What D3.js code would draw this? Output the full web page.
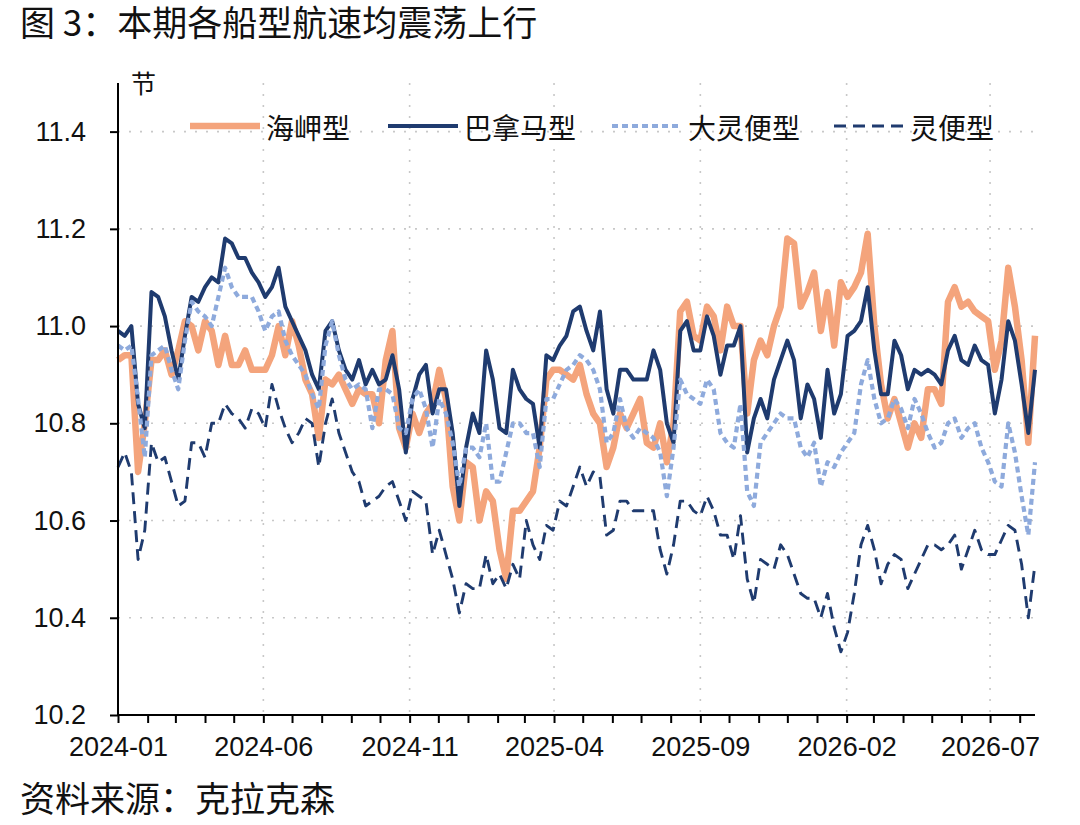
<!DOCTYPE html>
<html>
<head>
<meta charset="utf-8">
<script src="https://cdn.jsdelivr.net/npm/d3@7/dist/d3.min.js"></script>
<style>
	body { margin: 0; background: #fff; }
	svg text { fill: #111; }
	.num { font-family: "Liberation Sans", Arial, sans-serif; }
	.cjk { font-family: "Noto Sans CJK SC", sans-serif; }
</style>
</head>
<body>
<svg id="chart" width="1080" height="825"></svg>
<script>
// weekly readings, first week starts 2024-01-01
var firstWeek = '2024-01-01';

var capesize = [
	10.93,10.94,10.94,10.70,10.80,10.93,10.93,10.95,10.90,10.95,
	11.01,11.00,10.95,11.01,10.99,10.92,10.98,10.92,10.92,10.95,
	10.91,10.91,10.91,10.94,11.00,10.94,11.01,10.96,10.89,10.86,
	10.77,10.89,10.88,10.90,10.87,10.84,10.87,10.86,10.86,10.80,
	10.93,10.99,10.79,10.75,10.82,10.78,10.82,10.84,10.91,10.85,
	10.67,10.60,10.72,10.71,10.60,10.66,10.64,10.54,10.48,10.62,
	10.62,10.64,10.66,10.75,10.89,10.91,10.91,10.90,10.89,10.92,
	10.86,10.82,10.80,10.71,10.75,10.82,10.79,10.82,10.85,10.76,
	10.75,10.80,10.72,10.80,11.03,11.05,10.98,10.97,11.04,11.02,
	10.95,11.04,11.00,11.00,10.82,10.93,10.97,10.94,11.00,11.04,
	11.18,11.17,11.04,11.07,11.11,10.99,11.07,10.96,11.09,11.06,
	11.08,11.11,11.19,11.00,10.88,10.81,10.85,10.80,10.75,10.80,
	10.77,10.87,10.87,10.84,11.05,11.08,11.04,11.05,11.03,11.02,
	11.01,10.91,10.97,11.12,11.04,10.93,10.76,10.98
];
var panamax = [
	10.99,10.98,11.00,10.84,10.79,11.07,11.06,11.02,10.95,10.89,
	10.98,11.06,11.05,11.08,11.10,11.09,11.18,11.17,11.14,11.14,
	11.11,11.09,11.06,11.08,11.12,11.04,11.01,10.98,10.95,10.90,
	10.87,10.99,11.01,10.95,10.91,10.89,10.93,10.88,10.91,10.88,
	10.89,10.94,10.87,10.74,10.85,10.90,10.92,10.82,10.87,10.87,
	10.78,10.63,10.75,10.82,10.78,10.95,10.89,10.79,10.78,10.91,
	10.87,10.85,10.84,10.75,10.94,10.93,10.96,10.98,11.03,11.04,
	10.99,10.95,11.03,10.87,10.82,10.91,10.91,10.89,10.89,10.89,
	10.95,10.91,10.80,10.76,10.99,11.01,10.95,10.95,11.02,10.98,
	10.90,10.96,10.96,11.00,10.74,10.81,10.85,10.81,10.89,10.93,
	10.97,10.93,10.81,10.88,10.85,10.77,10.91,10.82,10.86,10.98,
	10.99,11.01,11.08,10.95,10.86,10.86,10.97,10.94,10.87,10.91,
	10.90,10.91,10.90,10.88,10.95,10.98,10.93,10.92,10.96,10.93,
	10.92,10.82,10.89,11.01,10.97,10.88,10.78,10.91
];
var supramax = [
	10.96,10.95,10.96,10.85,10.73,10.94,10.95,10.96,10.91,10.87,
	10.97,11.05,11.03,11.02,11.00,11.06,11.12,11.08,11.06,11.06,
	11.06,11.03,10.99,11.02,11.03,10.97,10.94,10.92,10.90,10.86,
	10.83,10.96,11.01,10.94,10.89,10.87,10.88,10.87,10.79,10.87,
	10.87,10.86,10.79,10.78,10.85,10.87,10.83,10.75,10.85,10.82,
	10.76,10.67,10.75,10.75,10.73,10.80,10.68,10.68,10.74,10.80,
	10.80,10.78,10.78,10.71,10.85,10.85,10.88,10.91,10.92,10.94,
	10.93,10.91,10.87,10.76,10.78,10.85,10.79,10.77,10.79,10.78,
	10.77,10.74,10.65,10.75,10.89,10.86,10.85,10.84,10.89,10.87,
	10.78,10.76,10.75,10.84,10.66,10.63,10.76,10.78,10.80,10.82,
	10.81,10.81,10.75,10.73,10.76,10.67,10.72,10.71,10.74,10.76,
	10.78,10.88,10.93,10.85,10.80,10.81,10.85,10.83,10.79,10.85,
	10.82,10.78,10.75,10.76,10.80,10.81,10.77,10.79,10.80,10.75,
	10.72,10.68,10.67,10.80,10.74,10.65,10.57,10.72
];
var handysize = [
	10.71,10.74,10.70,10.52,10.58,10.76,10.72,10.73,10.68,10.63,
	10.64,10.76,10.76,10.73,10.80,10.80,10.84,10.82,10.81,10.79,
	10.83,10.82,10.79,10.88,10.83,10.79,10.76,10.78,10.81,10.80,
	10.71,10.80,10.85,10.78,10.74,10.70,10.68,10.63,10.64,10.65,
	10.67,10.68,10.64,10.60,10.66,10.65,10.64,10.53,10.58,10.53,
	10.48,10.41,10.47,10.46,10.46,10.53,10.47,10.49,10.46,10.51,
	10.48,10.60,10.55,10.52,10.59,10.58,10.64,10.63,10.67,10.71,
	10.67,10.70,10.69,10.57,10.58,10.64,10.64,10.62,10.62,10.62,
	10.62,10.54,10.49,10.55,10.64,10.64,10.62,10.61,10.65,10.62,
	10.57,10.57,10.52,10.61,10.48,10.43,10.52,10.51,10.50,10.55,
	10.53,10.49,10.45,10.44,10.44,10.40,10.45,10.38,10.33,10.37,
	10.45,10.55,10.59,10.54,10.47,10.51,10.53,10.52,10.46,10.49,
	10.52,10.55,10.55,10.54,10.55,10.57,10.50,10.54,10.58,10.54,
	10.53,10.53,10.56,10.59,10.58,10.51,10.40,10.51
];

var seriesNames = ['海岬型', '巴拿马型', '大灵便型', '灵便型'];
var xTickLabels = ['2024-01', '2024-06', '2024-11', '2025-04', '2025-09', '2026-02', '2026-07'];
var yTicks = [10.2, 10.4, 10.6, 10.8, 11.0, 11.2, 11.4];

var parse = d3.timeParse('%Y-%m-%d');
var parseMonth = d3.timeParse('%Y-%m');
var start = parse(firstWeek);
var weeks = capesize.map(function(d, i){ return d3.timeDay.offset(start, i * 7) });

var styles = [
	{ data: capesize, color: '#F4A47C', width: 6.5, dash: null },
	{ data: panamax, color: '#1F3B6F', width: 4, dash: null },
	{ data: supramax, color: '#8EAADC', width: 4.2, dash: '6,4' },
	{ data: handysize, color: '#1F3B6F', width: 2.9, dash: '12,7' }
];

var svg = d3.select('#chart');
var plotLeft = 118, plotRight = 1035, plotTop = 83, plotBottom = 715;

var x = d3.scaleTime()
	.domain([start, weeks[weeks.length - 1]])
	.range([plotLeft, plotRight]);
var y = d3.scaleLinear()
	.domain([10.2, 11.5])
	.range([plotBottom, plotTop]);

// title
svg.append('text')
	.attr('class', 'cjk')
	.attr('x', 20)
	.attr('y', 36)
	.style('font-size', '35px')
	.text('图 3：本期各船型航速均震荡上行');

// gridlines
var grid = svg.append('g')
	.attr('stroke', '#c8c8c8')
	.attr('stroke-width', 1.6)
	.attr('stroke-dasharray', '2,9');
grid.selectAll('.hgrid')
	.data(yTicks.slice(1))
	.enter()
	.append('line')
	.attr('class', 'hgrid')
	.attr('x1', plotLeft)
	.attr('x2', plotRight)
	.attr('y1', function(d){ return y(d) })
	.attr('y2', function(d){ return y(d) });
grid.selectAll('.vgrid')
	.data(xTickLabels.slice(1))
	.enter()
	.append('line')
	.attr('class', 'vgrid')
	.attr('x1', function(d){ return x(parseMonth(d)) })
	.attr('x2', function(d){ return x(parseMonth(d)) })
	.attr('y1', plotTop)
	.attr('y2', plotBottom);

// series lines
var line = d3.line()
	.x(function(d, i){ return x(weeks[i]) })
	.y(function(d){ return y(d) });

svg.selectAll('.series')
	.data(styles)
	.enter()
	.append('path')
	.attr('class', 'series')
	.attr('fill', 'none')
	.attr('stroke', function(d){ return d.color })
	.attr('stroke-width', function(d){ return d.width })
	.attr('stroke-dasharray', function(d){ return d.dash })
	.attr('stroke-linejoin', 'round')
	.attr('d', function(d){ return line(d.data) });

// axes
var yAxis = d3.axisLeft(y)
	.tickValues(yTicks)
	.tickSize(8)
	.tickPadding(24)
	.tickFormat(d3.format('.1f'));
var gy = svg.append('g')
	.attr('transform', 'translate(' + plotLeft + ',0)')
	.call(yAxis);
gy.select('.domain').attr('d', 'M0,' + plotTop + 'V' + plotBottom);

var months = d3.timeMonth.range(start, x.domain()[1]);
var xAxis = d3.axisBottom(x)
	.tickValues(months)
	.tickSize(8)
	.tickPadding(14)
	.tickFormat(function(d){
		var s = d3.timeFormat('%Y-%m')(d);
		return xTickLabels.indexOf(s) >= 0 ? s : '';
	});
var gx = svg.append('g')
	.attr('transform', 'translate(0,' + plotBottom + ')')
	.call(xAxis);
gx.select('.domain').attr('d', 'M' + plotLeft + ',0H' + plotRight);

[gx, gy].forEach(function(g){
	g.selectAll('line, path').attr('stroke', '#000').attr('stroke-width', 2);
	g.selectAll('text')
		.attr('class', 'num')
		.style('font-size', '27px')
		.attr('fill', '#111');
});

// unit label
svg.append('text')
	.attr('class', 'cjk')
	.attr('x', 131)
	.attr('y', 93)
	.style('font-size', '25px')
	.text('节');

// legend
var legendX = [190, 388, 612, 834];
var lg = svg.selectAll('.legend')
	.data(styles)
	.enter()
	.append('g')
	.attr('class', 'legend')
	.attr('transform', function(d, i){ return 'translate(' + legendX[i] + ',126)' });
lg.append('line')
	.attr('x1', 0)
	.attr('x2', 70)
	.attr('stroke', function(d){ return d.color })
	.attr('stroke-width', function(d){ return d.width })
	.attr('stroke-dasharray', function(d){ return d.dash });
lg.append('text')
	.attr('class', 'cjk')
	.attr('x', 76)
	.attr('y', 1)
	.attr('dominant-baseline', 'central')
	.style('font-size', '28px')
	.text(function(d, i){ return seriesNames[i] });

// source
svg.append('text')
	.attr('class', 'cjk')
	.attr('x', 20)
	.attr('y', 812)
	.style('font-size', '35px')
	.text('资料来源：克拉克森');
</script>
</body>
</html>
